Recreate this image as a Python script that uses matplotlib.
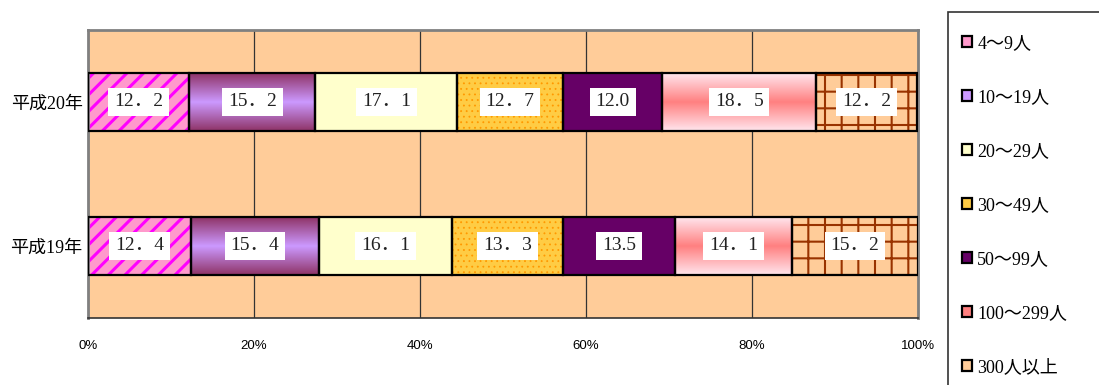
import numpy as np
import matplotlib.pyplot as plt
from matplotlib.colors import LinearSegmentedColormap
from matplotlib.patches import Patch, Rectangle

years = ["平成20年", "平成19年"]
groups = ["4～9人", "10～19人", "20～29人", "30～49人", "50～99人", "100～299人", "300人以上"]
h20 = [12.2, 15.2, 17.1, 12.7, 12.0, 18.5, 12.2]
h19 = [12.4, 15.4, 16.1, 13.3, 13.5, 14.1, 15.2]
ticks = [0, 20, 40, 60, 80, 100]

# fill, hatch, hatch colour, hatch width, gradient (edge, middle), decimal mark
styles = [
    ("#FF99CC", "//", "#FF00FF", 2.2, None, "．"),
    ("#CC99FF", "", None, 0, ("#8E3366", "#CC99FF"), "．"),
    ("#FFFFCC", "", None, 0, None, "．"),
    ("#FFCC44", "...", "#FF9900", 0.6, None, "．"),
    ("#660066", "", None, 0, None, "."),
    ("#FF8080", "", None, 0, ("#FFE6EE", "#FF8080"), "．"),
    ("#FFCC99", "+", "#993300", 1.5, None, "．"),
]

serif_jp = ["Liberation Serif", "Noto Sans CJK JP"]

fig = plt.figure(figsize=(10.99, 3.85), dpi=100)
ax = fig.add_axes([88 / 1099, 1 - 318 / 385, 830 / 1099, 288 / 385])
ax.set_facecolor("#FFCC99")

ypos = np.array([1, 0])
data = np.array([h20, h19])
left = np.zeros(2)
bh = 0.4

for i, (fc, hatch, hc, hlw, grad, dec) in enumerate(styles):
    vals = data[:, i]
    base = ax.barh(ypos, vals, left=left, height=bh, color=fc,
                   edgecolor=hc if hc else fc, linewidth=0, hatch=hatch or None,
                   zorder=2)
    if hatch:
        for p in base:
            p.set_hatch_linewidth(hlw)
    if grad:
        cmap = LinearSegmentedColormap.from_list("g", [grad[0], grad[1], grad[0]])
        g = np.linspace(0, 1, 256).reshape(-1, 1)
        for p in base:
            x0, y0 = p.get_x(), p.get_y()
            im = ax.imshow(g, cmap=cmap, aspect="auto", zorder=2.5,
                           extent=(x0, x0 + p.get_width(), y0, y0 + p.get_height()),
                           interpolation="bilinear")
            im.set_clip_path(p)
    ax.barh(ypos, vals, left=left, height=bh, fill=False, edgecolor="black",
            linewidth=1.6, zorder=3)
    for y, v, l in zip(ypos, vals, left):
        ax.text(l + v / 2, y, f"{v:.1f}".replace(".", dec), ha="center", va="center",
                fontsize=14, family=serif_jp, color="#222222", zorder=4,
                bbox=dict(boxstyle="square,pad=0.3", fc="white", ec="none"))
    left = left + vals

ax.set_xlim(0, 100)
ax.set_ylim(-0.5, 1.5)
ax.set_xticks(ticks)
ax.set_xticklabels([f"{t}%" for t in ticks], fontsize=9.5, family="Liberation Sans")
ax.set_yticks(ypos)
ax.set_yticklabels(years, fontsize=13, family=serif_jp)
ax.tick_params(axis="x", length=0, pad=16)
ax.tick_params(axis="y", length=0, pad=4)
ax.xaxis.grid(True, color="#333333", linewidth=0.9, zorder=1)
ax.set_axisbelow(True)
for s in ["top", "right", "left"]:
    ax.spines[s].set_color("#808080")
    ax.spines[s].set_linewidth(2)
ax.spines["bottom"].set_color("#333333")
ax.spines["bottom"].set_linewidth(1.2)

# legend with its own frame running off the figure edge
fig.patches.append(Rectangle((948 / 1099, -0.1), 0.3, 0.1 + (1 - 12 / 385),
                             transform=fig.transFigure, fill=False,
                             edgecolor="#333333", linewidth=1.2))
handles = [Patch(facecolor=s[0], edgecolor="black", linewidth=1.6) for s in styles]
fig.legend(handles, groups, loc="upper left", bbox_to_anchor=(962 / 1099, 1 - 35 / 385),
           frameon=False, prop={"family": serif_jp, "size": 13},
           handlelength=0.55, handleheight=0.55, handletextpad=0.3,
           labelspacing=2.05, borderpad=0, borderaxespad=0)

fig.savefig("out.png", dpi=100)
